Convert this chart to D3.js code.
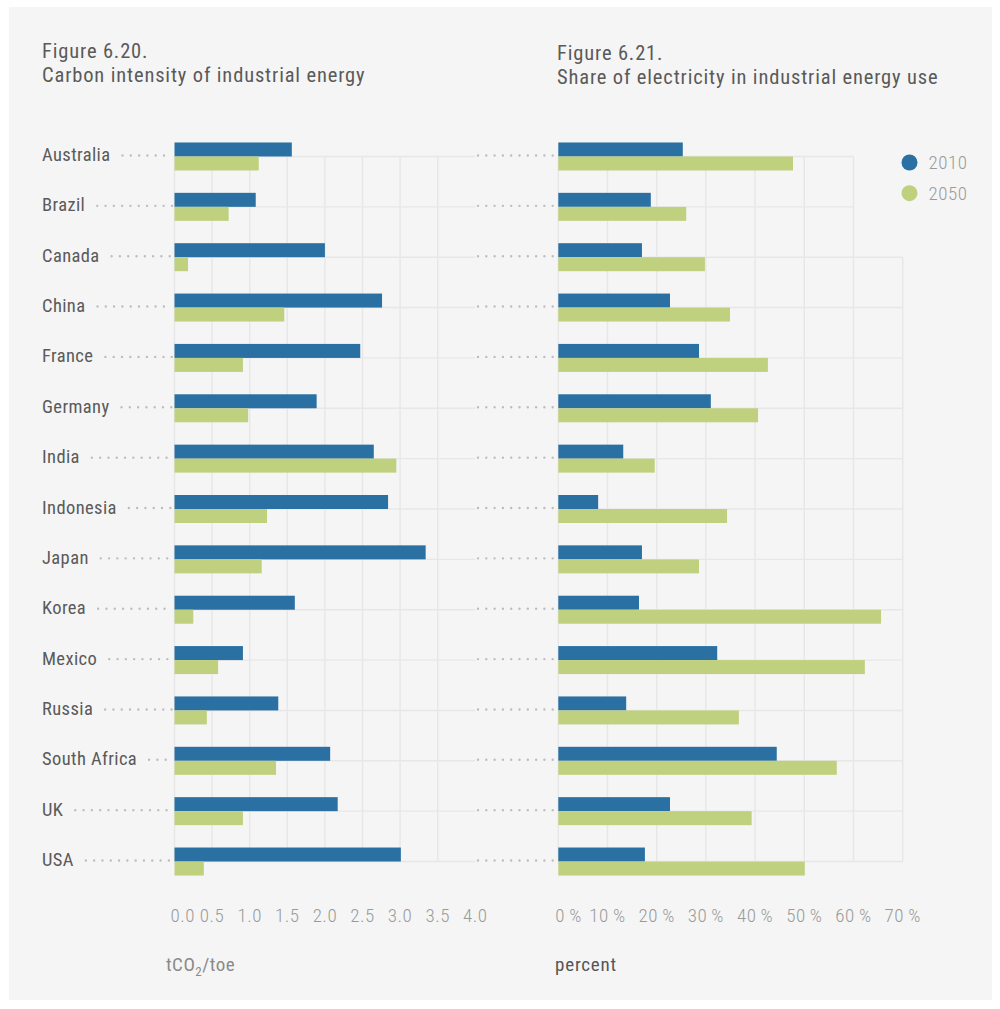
<!DOCTYPE html>
<html>
<head>
<meta charset="utf-8">
<script src="https://cdn.jsdelivr.net/npm/d3@7"></script>
<style>
  html, body { margin: 0; padding: 0; background: #ffffff; }
  svg { display: block; }
  text { font-family: "Liberation Sans Narrow", "Roboto Condensed", "Arial Narrow", Roboto, sans-serif; font-weight: 400; }
  text.light { font-weight: 300; }
</style>
</head>
<body>
<svg id="chart" width="1000" height="1009"></svg>
<script>
const countries = ["Australia","Brazil","Canada","China","France","Germany","India","Indonesia","Japan","Korea","Mexico","Russia","South Africa","UK","USA"];
const years = ["2010","2050"];
const intensity2010 = [1.56,1.08,2.00,2.76,2.47,1.89,2.65,2.84,3.34,1.60,0.91,1.38,2.07,2.17,3.01];
const intensity2050 = [1.12,0.72,0.18,1.46,0.91,0.98,2.95,1.23,1.16,0.25,0.58,0.43,1.35,0.91,0.39];
const elecShare2010 = [25.3,18.8,17.0,22.7,28.6,31.0,13.2,8.1,17.0,16.4,32.3,13.8,44.4,22.7,17.6];
const elecShare2050 = [47.7,26.0,29.8,34.9,42.6,40.6,19.6,34.3,28.6,65.6,62.3,36.7,56.6,39.3,50.1];
const intensityTicks = [0,0.5,1.0,1.5,2.0,2.5,3.0,3.5,4.0];
const shareTicks = [0,10,20,30,40,50,60,70];
const titles = {
  left: ["Figure 6.20.", "Carbon intensity of industrial energy"],
  right: ["Figure 6.21.", "Share of electricity in industrial energy use"]
};

const C_BLUE = "#2a70a2", C_GREEN = "#bfd07e";
const color = d3.scaleOrdinal(years, [C_BLUE, C_GREEN]);
const svg = d3.select("#chart");

svg.append("rect").attr("x", 9).attr("y", 7).attr("width", 983).attr("height", 993).attr("fill", "#f5f5f5");

const y = d3.scaleBand(countries, [131.3, 886.7]);
const sub = d3.scaleBand(years, [y.bandwidth()/2 - 14, y.bandwidth()/2 + 14]);
const yc = c => y(c) + y.bandwidth()/2;

const xL = d3.scaleLinear([0, 4], [174.5, 475.3]);
const xR = d3.scaleLinear([0, 70], [558.3, 902.7]);

const GRID = "#e7e7e7";
// Left grid
const gL = svg.append("g");
gL.selectAll("line.v").data(intensityTicks.slice(0, -1)).join("line")
  .attr("x1", d => xL(d)).attr("x2", d => xL(d))
  .attr("y1", yc(countries[0])).attr("y2", yc(countries[countries.length-1]))
  .attr("stroke", GRID).attr("stroke-width", 1.4);
gL.selectAll("line.h").data(countries).join("line")
  .attr("x1", xL(0)).attr("x2", xL(4))
  .attr("y1", d => yc(d)).attr("y2", d => yc(d))
  .attr("stroke", GRID).attr("stroke-width", 1.4);

// Right grid
const gR = svg.append("g");
gR.selectAll("line.v").data(shareTicks).join("line")
  .attr("x1", d => xR(d)).attr("x2", d => xR(d))
  .attr("y1", d => d === 70 ? yc(countries[2]) : yc(countries[0]))
  .attr("y2", yc(countries[countries.length-1]))
  .attr("stroke", GRID).attr("stroke-width", 1.4);
gR.selectAll("line.h").data(countries).join("line")
  .attr("x1", xR(0)).attr("x2", (d, i) => i < 2 ? xR(60) : xR(70))
  .attr("y1", d => yc(d)).attr("y2", d => yc(d))
  .attr("stroke", GRID).attr("stroke-width", 1.4);

// Titles
function title(x, y0, lines) {
  const t = svg.append("text").attr("x", x).attr("y", y0).attr("fill", "#5a5a5a").attr("font-size", 20.5).attr("letter-spacing", 0.85);
  lines.forEach((l, i) => t.append("tspan").attr("x", x).attr("dy", i === 0 ? 0 : 24.5).text(l));
}
title(42, 57.5, titles.left);
title(557, 59.5, titles.right);

// Country labels + leaders
const labels = svg.append("g");
countries.forEach(c => {
  const t = labels.append("text").attr("x", 42).attr("y", yc(c) + 4.5)
    .attr("fill", "#5a5a5a").attr("font-size", 18.5).attr("letter-spacing", 0.4).text(c);
  const w = t.node().getComputedTextLength();
  const dotStyle = sel => sel.attr("stroke", "#bdbdbd").attr("stroke-width", 2.4)
    .attr("stroke-linecap", "round").attr("stroke-dasharray", "0,8.3");
  labels.append("line").attr("x1", 42 + w + 12).attr("x2", 172)
    .attr("y1", yc(c) - 1).attr("y2", yc(c) - 1).call(dotStyle);
  labels.append("line").attr("x1", 478).attr("x2", 554)
    .attr("y1", yc(c) - 1).attr("y2", yc(c) - 1).call(dotStyle);
});

// Bars
function bars(xs, v2010, v2050) {
  const g = svg.append("g");
  const rows = countries.map((c, i) => ({c, vals: [{k: "2010", v: v2010[i]}, {k: "2050", v: v2050[i]}]}));
  g.selectAll("g").data(rows).join("g")
    .attr("transform", d => `translate(0,${y(d.c)})`)
    .selectAll("rect").data(d => d.vals).join("rect")
    .attr("x", xs(0)).attr("y", d => sub(d.k))
    .attr("width", d => xs(d.v) - xs(0)).attr("height", sub.bandwidth())
    .attr("fill", d => color(d.k));
}
bars(xL, intensity2010, intensity2050);
bars(xR, elecShare2010, elecShare2050);

// Tick labels
const TICK = "#9a9a9a";
svg.append("g").selectAll("text").data(intensityTicks).join("text")
  .attr("class", "light")
  .attr("x", (d, i) => i === 0 ? xL(d) - 4 : xL(d)).attr("y", 922)
  .attr("text-anchor", (d, i) => i === 0 ? "start" : "middle")
  .attr("fill", TICK).attr("font-size", 19).attr("letter-spacing", 0.5)
  .text(d => d3.format(".1f")(d));
svg.append("g").selectAll("text").data(shareTicks).join("text")
  .attr("class", "light")
  .attr("x", (d, i) => i === 0 ? xR(d) - 3 : xR(d)).attr("y", 922)
  .attr("text-anchor", (d, i) => i === 0 ? "start" : "middle")
  .attr("fill", TICK).attr("font-size", 19).attr("letter-spacing", 0.5)
  .text(d => d + "\u2009%");

// Axis titles
const at = svg.append("text").attr("x", 166).attr("y", 971).attr("fill", "#8a8a8a").attr("font-size", 19).attr("letter-spacing", 0.5);
at.append("tspan").text("tCO");
at.append("tspan").attr("font-size", 13).attr("dy", 5).text("2");
at.append("tspan").attr("dy", -5).text("/toe");
svg.append("text").attr("x", 555).attr("y", 971).attr("fill", "#555").attr("font-size", 19).attr("letter-spacing", 0.8).text("percent");

// Legend
const lg = svg.append("g").selectAll("g").data(years).join("g")
  .attr("transform", (d, i) => `translate(909.5,${162.5 + i * 30.7})`);
lg.append("circle").attr("r", 8).attr("fill", d => color(d));
lg.append("text").attr("class", "light").attr("x", 19).attr("y", 6.5).attr("fill", TICK).attr("font-size", 19).attr("letter-spacing", 0.5).text(d => d);
</script>
</body>
</html>
